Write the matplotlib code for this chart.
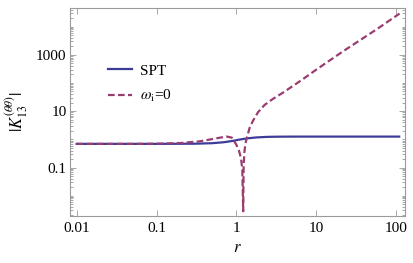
import numpy as np
import matplotlib
matplotlib.use("Agg")
from matplotlib import pyplot as plt
from matplotlib.ticker import FixedLocator, NullFormatter, FixedFormatter

plt.rcParams['font.family'] = ['Liberation Serif', 'DejaVu Serif']
plt.rcParams['mathtext.fontset'] = 'stix'

# values
r_spt = [0.01, 0.1, 0.3, 0.5, 0.7, 0.9, 1.1, 1.4, 1.8, 2.4, 3.2, 5, 10, 30, 110]
k_spt = [0.69, 0.69, 0.70, 0.73, 0.79, 0.88, 0.98, 1.09, 1.17, 1.22, 1.24, 1.25, 1.25, 1.25, 1.25]

r_w0 = [0.01, 0.05, 0.1, 0.2, 0.35, 0.5, 0.75, 0.88, 1.0, 1.08, 1.15, 1.19, 1.22,
        1.235, 1.26, 1.3, 1.335, 1.469, 1.616, 1.866, 2.265, 2.88, 3.81, 6.23,
        10.6, 21.7, 57.1, 111]
k_w0 = [0.69, 0.69, 0.70, 0.74, 0.85, 1.02, 1.26, 1.15, 0.65, 0.4, 0.2, 0.08, 0.0028,
        0.1, 0.33, 0.7, 0.96, 2.56, 4.53, 9.06, 16.7, 27.3, 44.6, 114,
        330, 1320, 7960, 28900]

y_major = [0.1, 10, 1000]
y_major_labels = ['0.1', '10', '1000']
x_major = [0.01, 0.1, 1, 10, 100]
x_major_labels = ['0.01', '0.1', '1', '10', '100']

fig = plt.figure(figsize=(4.13, 2.63), dpi=100)
ax = fig.add_axes([70/413, 1-216/263, 335/413, 208/263])

ax.plot(r_spt, k_spt, color='#3d3d99', lw=1.6, label='SPT')
ax.plot(r_w0, k_w0, color='#993d71', lw=1.6, dashes=(3.0, 1.5), label=r'$\omega_{\mathrm{i}}$=0')

ax.set_xscale('log')
ax.set_yscale('log')
ax.set_xlim(10**-2.084, 10**2.114)
ax.set_ylim(10**-2.72, 10**4.66)

ax.xaxis.set_major_locator(FixedLocator(x_major))
ax.xaxis.set_major_formatter(FixedFormatter(x_major_labels))
ax.xaxis.set_minor_locator(FixedLocator([]))
ax.yaxis.set_major_locator(FixedLocator(y_major))
ax.yaxis.set_major_formatter(FixedFormatter(y_major_labels))
minors = []
for e in range(-3, 5):
    for m in range(1, 10):
        v = m * 10.0**e
        if v not in y_major:
            minors.append(v)
ax.yaxis.set_minor_locator(FixedLocator(minors))
ax.yaxis.set_minor_formatter(NullFormatter())

for s in ax.spines.values():
    s.set_color('#9a9a9a')
    s.set_linewidth(0.8)
ax.tick_params(which='both', direction='in', top=True, right=True, color='#9a9a9a',
               labelsize=11, width=0.6)
ax.tick_params(which='major', length=4, pad=4)
ax.tick_params(axis='y', which='major', pad=2.5)
ax.tick_params(which='minor', length=2)

ax.set_xlabel('$r$', fontsize=12, labelpad=4)
ax.set_ylabel(r'$|K_{13}^{(\theta\theta)}|$', fontsize=12, labelpad=4)

ax.legend(loc='upper left', bbox_to_anchor=(108/413, 1-64/263), bbox_transform=fig.transFigure,
          frameon=False, fontsize=11, handlelength=1.6, handletextpad=0.5,
          labelspacing=0.7, borderpad=0, borderaxespad=0)

fig.savefig('out.png', dpi=100)
